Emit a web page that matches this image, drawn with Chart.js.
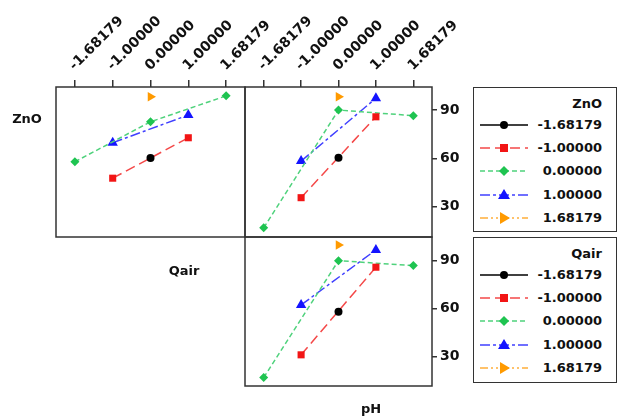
<!DOCTYPE html>
<html>
<head>
<meta charset="utf-8">
<script src="https://cdn.jsdelivr.net/npm/chart.js@4.4.1/dist/chart.umd.min.js"></script>
<style>
  body { margin: 0; background: #fff; font-family: 'DejaVu Sans', sans-serif; }
  #wrap { position: relative; width: 620px; height: 418px; overflow: hidden; }
  #wrap canvas { position: absolute; left: 0; top: 0; }
  .lbl { position: absolute; font-weight: bold; font-size: 13px; color: #111; transform: translate(-50%, -50%); white-space: nowrap; }
  .legend { position: absolute; left: 473px; width: 144px; border: 1.5px solid #333; box-sizing: border-box; background: #fff; }
  .legend .ttl, .legend .txt { position: absolute; right: 14px; font-weight: bold; font-size: 13px; color: #111; line-height: 16px; white-space: nowrap; }
  .legend svg { position: absolute; left: 5px; }
</style>
</head>
<body>
<div id="wrap">
  <canvas id="c1" width="620" height="418"></canvas>
  <canvas id="c2" width="620" height="418"></canvas>
  <canvas id="c3" width="620" height="418"></canvas>
  <div class="lbl" style="left:27px;top:118px">ZnO</div>
  <div class="lbl" style="left:184px;top:270px">Qair</div>
  <div class="lbl" style="left:371px;top:408px">pH</div>
  <div class="legend" id="leg1" style="top:87px;height:145px"></div>
  <div class="legend" id="leg2" style="top:237px;height:146px"></div>
</div>
<script>
// factor levels (coded), used both as x categories and as series names
const levels = ['-1.68179', '-1.00000', '0.00000', '1.00000', '1.68179'];
const yTicks = [30, 60, 90];

// mean response, one row per level of the trace factor
const znoByQair = [
  [null, null, 60.2, null, null],
  [null, 47.7, null, 72.8, null],
  [57.9, null, 82.7, null, 98.8],
  [null, 69.7, null, 86.9, null],
  [null, null, 98.3, null, null]
];
const znoByPh = [
  [null, null, 60.4, null, null],
  [null, 35.6, null, 85.8, null],
  [16.9, null, 90.0, null, 86.5],
  [null, 58.3, null, 97.3, null],
  [null, null, 98.3, null, null]
];
const qairByPh = [
  [null, null, 58.1, null, null],
  [null, 31.1, null, 85.9, null],
  [16.9, null, 90.0, null, 86.9],
  [null, 62.3, null, 96.7, null],
  [null, null, 99.8, null, null]
];

const markerColors = ['#000000', '#f21515', '#1fc451', '#1414ff', '#ff9a00'];
const lineColors = ['#000000', '#f44848', '#4fd27c', '#4040ff', '#ffae3a'];
const markerStyles = ['circle', 'rect', 'rectRot', 'triangle', 'triangle'];
const markerRot = [0, 0, 0, 0, 90];
const markerRadius = [4, 5, 4.5, 6, 5.5];
const dashes = [[], [10, 5], [5, 3], [10, 3, 3, 3], [8, 3, 2, 3, 2, 3]];

const frame = {
  id: 'frame',
  beforeDatasetsDraw(chart) {
    const a = chart.chartArea;
    const ctx = chart.ctx;
    ctx.save();
    ctx.strokeStyle = '#333';
    ctx.lineWidth = 1.5;
    ctx.strokeRect(a.left, a.top, a.right - a.left, a.bottom - a.top);
    ctx.restore();
  }
};

function panel(id, rows, area, yMin, yMax, showTop, showRight) {
  const yW = 40;
  return new Chart(document.getElementById(id), {
    type: 'line',
    data: {
      labels: levels,
      datasets: rows.map((vals, i) => ({
        label: levels[i],
        data: vals,
        spanGaps: true,
        borderColor: lineColors[i],
        borderWidth: 1.5,
        borderDash: dashes[i],
        tension: 0,
        pointStyle: markerStyles[i],
        pointRotation: markerRot[i],
        pointRadius: markerRadius[i],
        pointBackgroundColor: markerColors[i],
        pointBorderColor: markerColors[i],
        pointBorderWidth: 0
      }))
    },
    options: {
      responsive: false,
      animation: false,
      events: [],
      layout: {
        autoPadding: false,
        padding: {
          left: area.l,
          right: 620 - area.r - (showRight ? yW : 0),
          top: showTop ? 0 : area.t,
          bottom: 418 - area.b
        }
      },
      plugins: { legend: { display: false }, tooltip: { enabled: false } },
      scales: {
        x: {
          type: 'category',
          position: 'top',
          offset: true,
          display: showTop,
          border: { display: false },
          grid: { offset: false, drawOnChartArea: false, drawTicks: true, tickLength: 7, color: '#333', lineWidth: 1.5 },
          ticks: {
            autoSkip: false, minRotation: 45, maxRotation: 45, padding: 6, labelOffset: 9,
            color: '#111', font: { family: 'DejaVu Sans', size: 14, weight: 'bold' }
          },
          afterFit: (s) => { s.height = showTop ? area.t : 0; }
        },
        y: {
          position: 'right',
          min: yMin,
          max: yMax,
          display: showRight,
          border: { display: false },
          grid: { drawOnChartArea: false, drawTicks: true, tickLength: 5, color: '#333', lineWidth: 1.5 },
          ticks: { padding: 3, color: '#111', font: { family: 'DejaVu Sans', size: 14, weight: 'bold' } },
          afterBuildTicks: (s) => { s.ticks = yTicks.map((v) => ({ value: v })); },
          afterFit: (s) => { s.width = showRight ? yW : 0; }
        }
      }
    },
    plugins: [frame]
  });
}

panel('c1', znoByQair, { l: 56, r: 245, t: 87, b: 237 }, 11.2, 104.3, true, false);
panel('c2', znoByPh, { l: 245, r: 432, t: 87, b: 237 }, 11.2, 104.3, true, true);
panel('c3', qairByPh, { l: 245, r: 432, t: 237, b: 386 }, 11.6, 104.8, false, true);

function markerSvg(i, cx, cy) {
  const c = markerColors[i];
  if (markerStyles[i] === 'circle') return `<circle cx="${cx}" cy="${cy}" r="4" fill="${c}"/>`;
  if (markerStyles[i] === 'rect') return `<rect x="${cx - 4}" y="${cy - 4}" width="8" height="8" fill="${c}"/>`;
  if (markerStyles[i] === 'rectRot') return `<polygon points="${cx - 5},${cy} ${cx},${cy - 5} ${cx + 5},${cy} ${cx},${cy + 5}" fill="${c}"/>`;
  if (markerRot[i] === 90) return `<polygon points="${cx - 4},${cy - 6} ${cx + 6},${cy} ${cx - 4},${cy + 6}" fill="${c}"/>`;
  return `<polygon points="${cx - 6},${cy + 4} ${cx},${cy - 6} ${cx + 6},${cy + 4}" fill="${c}"/>`;
}

function buildLegend(id, title) {
  const el = document.getElementById(id);
  let html = `<div class="ttl" style="top:${16 - 8}px">${title}</div>`;
  levels.forEach((lv, i) => {
    const y = 37 + i * 23.2;
    const dash = dashes[i].length ? `stroke-dasharray="${dashes[i].join(',')}"` : '';
    html += `<svg width="50" height="16" style="top:${y - 8}px">` +
      `<line x1="1" y1="8" x2="49" y2="8" stroke="${lineColors[i]}" stroke-width="1.6" ${dash}/>` +
      markerSvg(i, 25, 8) + `</svg>` +
      `<div class="txt" style="top:${y - 8}px">${lv}</div>`;
  });
  el.innerHTML = html;
}
buildLegend('leg1', 'ZnO');
buildLegend('leg2', 'Qair');
</script>
</body>
</html>
